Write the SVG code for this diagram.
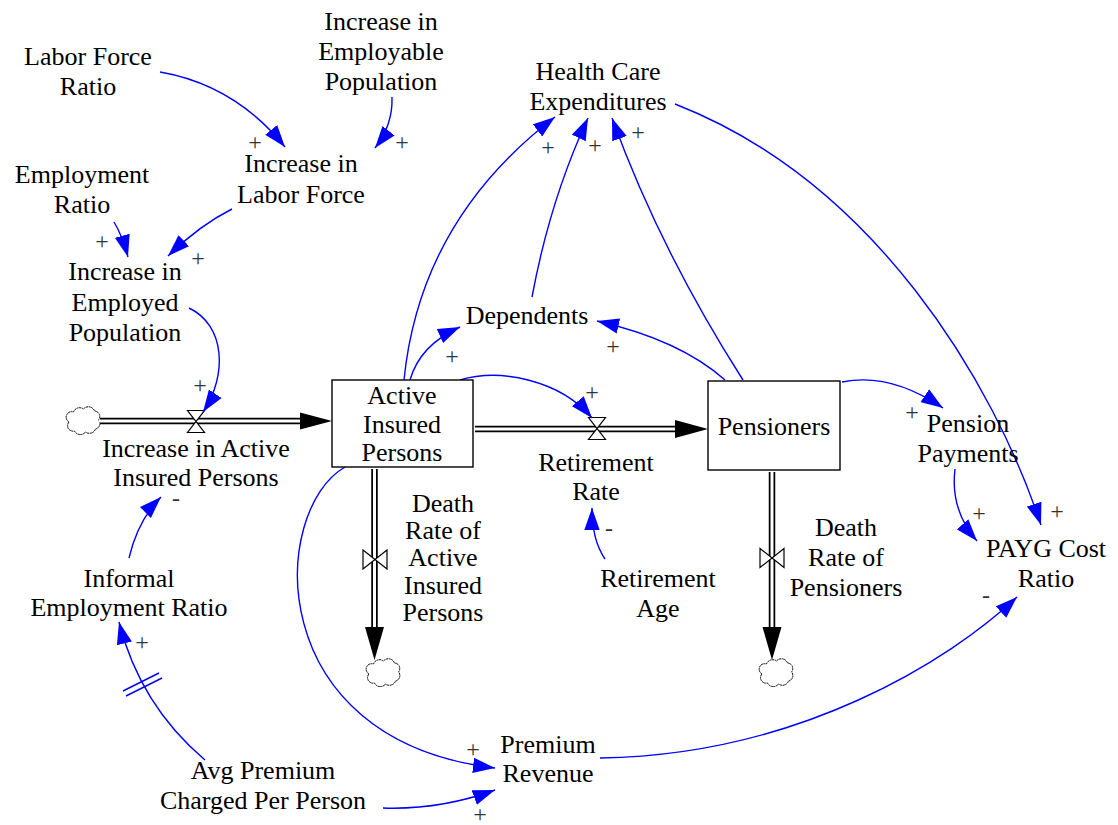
<svg xmlns="http://www.w3.org/2000/svg" width="1118" height="825" viewBox="0 0 1118 825">
<style>
text{font-family:"Liberation Serif","Times New Roman",serif;font-size:26px;fill:#000;text-anchor:middle}
.pol{font-size:24px;fill:#333;dominant-baseline:central}
.link{fill:none;stroke:#0000ff;stroke-width:1.4;marker-end:url(#ah)}
.box{fill:#fff;stroke:#000;stroke-width:1.4}
.pipeo{stroke:#000;stroke-width:6.5;fill:none}
.pipei{stroke:#fff;stroke-width:3;fill:none}
.valve{fill:#fff;stroke:#000;stroke-width:1.2}
.cloud{fill:#fff;stroke:#000;stroke-width:1;stroke-dasharray:2 0.6}
</style>
<defs>
<marker id="ah" markerUnits="userSpaceOnUse" markerWidth="22" markerHeight="16" viewBox="0 0 20 14" refX="20" refY="7" orient="auto">
<path d="M0,0 L20,7 L0,14 z" fill="#0000ff"/>
</marker>
<path id="cloud" d="M-15,2 a5.5,5.5 0 0 1 4.5,-10 a6.5,6.5 0 0 1 10,-3 a6.5,6.5 0 0 1 11,2 a5.5,5.5 0 0 1 4,9 a5.5,5.5 0 0 1 -3,9 a6.5,6.5 0 0 1 -10,3 a6.5,6.5 0 0 1 -11,-1 a5.5,5.5 0 0 1 -5.5,-9 z"/>
<path id="valveH" d="M-8.5,-11 L8.5,-11 L-8.5,11 L8.5,11 Z"/>
<path id="valveV" d="M-12,-9.5 L12,9.5 L12,-9.5 L-12,9.5 Z"/>
</defs>
<rect width="1118" height="825" fill="#fff"/>

<g id="flows">
<use href="#cloud" x="84" y="420" class="cloud"/>
<line x1="100" y1="421" x2="304" y2="421" class="pipeo"/>
<line x1="99" y1="421" x2="303" y2="421" class="pipei"/>
<polygon points="300,412.5 332,421 300,429.5" fill="#000"/>
<use href="#valveH" x="196" y="421.5" class="valve"/>
<line x1="475" y1="429" x2="679" y2="429" class="pipeo"/>
<line x1="474" y1="429" x2="678" y2="429" class="pipei"/>
<polygon points="675,420 708,429 675,438" fill="#000"/>
<use href="#valveH" x="597" y="428.5" class="valve"/>
<line x1="374.5" y1="469" x2="374.5" y2="630" class="pipeo"/>
<line x1="374.5" y1="468" x2="374.5" y2="629" class="pipei"/>
<polygon points="365,627 384,627 374.5,660" fill="#000"/>
<use href="#valveV" x="375" y="559.5" class="valve"/>
<use href="#cloud" x="384" y="672" class="cloud"/>
<line x1="772" y1="472" x2="772" y2="630" class="pipeo"/>
<line x1="772" y1="471" x2="772" y2="629" class="pipei"/>
<polygon points="762.5,627 781.5,627 772,660" fill="#000"/>
<use href="#valveV" x="772" y="558" class="valve"/>
<use href="#cloud" x="777" y="672" class="cloud"/>
</g>

<g id="connectors">
<path class="link" d="M160,72 Q235,85 285,147"/>
<path class="link" d="M392,97 Q393,125 375,148"/>
<path class="link" d="M114,222 Q122,235 128,257"/>
<path class="link" d="M232,209 Q200,225 168,256"/>
<path class="link" d="M189,308 C225,325 228,375 203,412"/>
<path class="link" d="M404,380 Q420,220 555,117"/>
<path class="link" d="M410,380 Q420,345 460,327"/>
<path class="link" d="M532,297 Q550,200 588,118"/>
<path class="link" d="M743,380 Q660,250 612,118"/>
<path class="link" d="M725,380 Q680,340 597,321"/>
<path class="link" d="M675,104 C875,182 994,383 1041,525"/>
<path class="link" d="M460,380 C500,368 560,380 592,418"/>
<path class="link" d="M842,382 Q890,372 943,408"/>
<path class="link" d="M955,469 Q950,510 977,541"/>
<path class="link" d="M605,559 Q592,540 592,508"/>
<path class="link" d="M129,558 Q138,520 161,497"/>
<path class="link" d="M205,760 Q140,705 119,622"/>
<line x1="123" y1="691" x2="159" y2="673" stroke="#0000ff" stroke-width="1.4"/>
<line x1="126" y1="696" x2="162" y2="678" stroke="#0000ff" stroke-width="1.4"/>
<path class="link" d="M345,467 C270,510 260,740 495,768"/>
<path class="link" d="M383,808 Q440,810 495,790"/>
<path class="link" d="M600,758 C800,755 950,660 1017,597"/>
</g>

<g id="polarities">
<text class="pol" x="255" y="142">+</text>
<text class="pol" x="402" y="142">+</text>
<text class="pol" x="102" y="241">+</text>
<text class="pol" x="198" y="258">+</text>
<text class="pol" x="200" y="385">+</text>
<text class="pol" x="548" y="147">+</text>
<text class="pol" x="595" y="145">+</text>
<text class="pol" x="638" y="132">+</text>
<text class="pol" x="452" y="356">+</text>
<text class="pol" x="613" y="346">+</text>
<text class="pol" x="1057" y="511">+</text>
<text class="pol" x="592" y="392">+</text>
<text class="pol" x="912" y="412">+</text>
<text class="pol" x="979" y="513">+</text>
<text class="pol" x="609" y="528">-</text>
<text class="pol" x="176" y="498">-</text>
<text class="pol" x="142" y="642">+</text>
<text class="pol" x="473" y="749">+</text>
<text class="pol" x="480" y="814">+</text>
<text class="pol" x="986" y="595">-</text>
</g>

<g id="labor-force-ratio"><text x="88" y="65">Labor Force</text><text x="88" y="95">Ratio</text></g>
<g id="increase-employable-population"><text x="381" y="30">Increase in</text><text x="381" y="60">Employable</text><text x="381" y="90">Population</text></g>
<g id="employment-ratio"><text x="82" y="183">Employment</text><text x="82" y="213">Ratio</text></g>
<g id="increase-labor-force"><text x="301" y="172">Increase in</text><text x="301" y="203">Labor Force</text></g>
<g id="increase-employed-population"><text x="125" y="280">Increase in</text><text x="125" y="311">Employed</text><text x="125" y="341">Population</text></g>
<g id="health-care-expenditures"><text x="598" y="80">Health Care</text><text x="598" y="110">Expenditures</text></g>
<g id="dependents"><text x="527" y="324">Dependents</text></g>
<g id="active-insured-persons"><rect class="box" x="332" y="380" width="141" height="87"/><text x="402" y="404">Active</text><text x="402" y="433">Insured</text><text x="402" y="461">Persons</text></g>
<g id="pensioners"><rect class="box" x="708" y="381" width="132" height="89"/><text x="774" y="435">Pensioners</text></g>
<g id="increase-active-insured-persons"><text x="196" y="457">Increase in Active</text><text x="196" y="486">Insured Persons</text></g>
<g id="retirement-rate"><text x="596" y="471">Retirement</text><text x="596" y="500">Rate</text></g>
<g id="death-rate-active"><text x="443" y="512">Death</text><text x="443" y="539">Rate of</text><text x="443" y="566">Active</text><text x="443" y="594">Insured</text><text x="443" y="621">Persons</text></g>
<g id="death-rate-pensioners"><text x="846" y="536">Death</text><text x="846" y="566">Rate of</text><text x="846" y="596">Pensioners</text></g>
<g id="retirement-age"><text x="658" y="587">Retirement</text><text x="658" y="617">Age</text></g>
<g id="informal-employment-ratio"><text x="129" y="587">Informal</text><text x="129" y="616">Employment Ratio</text></g>
<g id="pension-payments"><text x="968" y="432">Pension</text><text x="968" y="462">Payments</text></g>
<g id="payg-cost-ratio"><text x="1046" y="557">PAYG Cost</text><text x="1046" y="587">Ratio</text></g>
<g id="premium-revenue"><text x="548" y="753">Premium</text><text x="548" y="782">Revenue</text></g>
<g id="avg-premium"><text x="263" y="779">Avg Premium</text><text x="263" y="809">Charged Per Person</text></g>
</svg>
